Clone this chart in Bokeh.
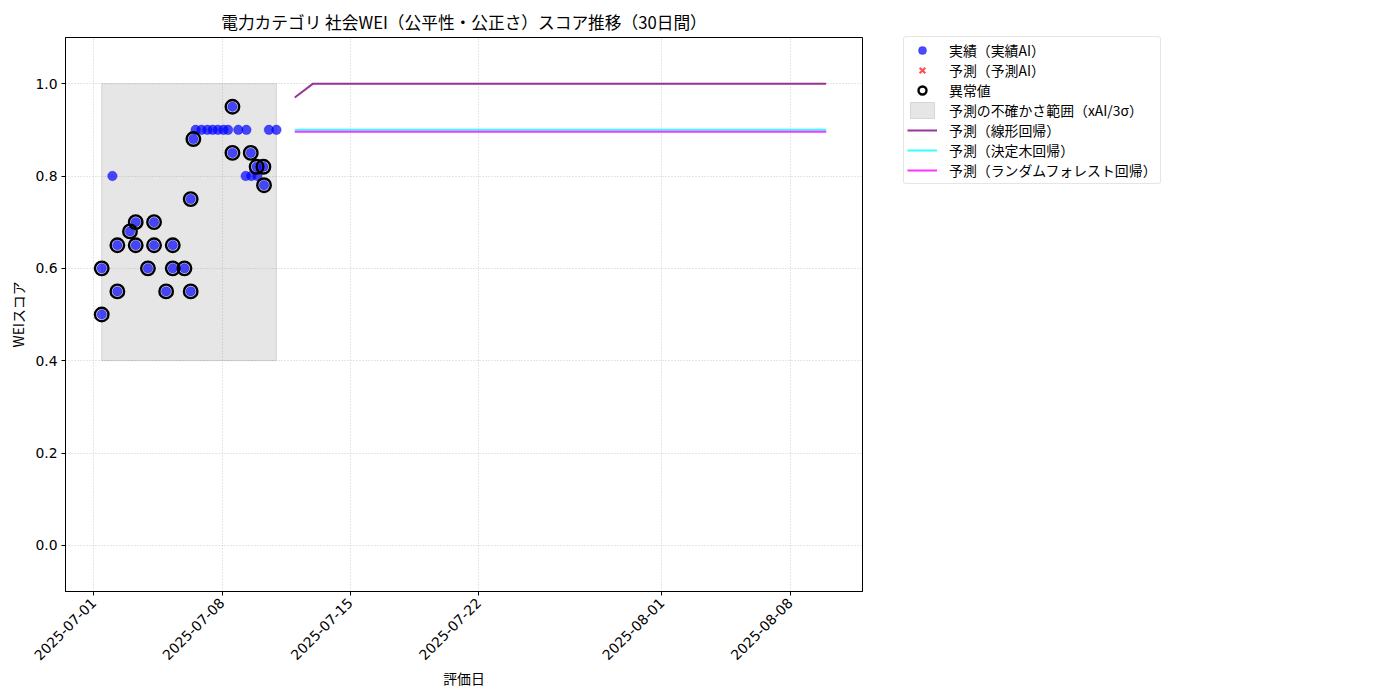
import math
from datetime import datetime, timedelta
from bokeh.plotting import figure
from bokeh.models import (ColumnDataSource, FixedTicker, DatetimeTickFormatter, Range1d,
                          Legend, LegendItem, CustomJSTickFormatter)
from bokeh.embed import file_html
from bokeh.resources import INLINE

# ---------------- data ----------------
actual_dates = [
    "2025-07-01 10:30", "2025-07-01 10:30", "2025-07-02 00:30", "2025-07-02 07:00", "2025-07-02 07:00",
    "2025-07-02 23:30", "2025-07-03 07:00", "2025-07-03 07:00", "2025-07-03 23:00", "2025-07-04 07:00",
    "2025-07-04 07:00", "2025-07-04 22:50", "2025-07-05 07:30", "2025-07-05 07:30", "2025-07-05 22:50",
    "2025-07-06 07:00", "2025-07-06 07:00", "2025-07-06 10:30", "2025-07-06 13:30", "2025-07-06 21:10",
    "2025-07-07 04:50", "2025-07-07 11:45", "2025-07-07 18:40", "2025-07-08 01:55", "2025-07-08 07:55",
    "2025-07-08 13:40", "2025-07-08 13:40", "2025-07-08 21:20", "2025-07-09 07:00", "2025-07-09 07:55",
    "2025-07-09 13:40", "2025-07-09 14:25", "2025-07-09 21:20", "2025-07-09 22:20", "2025-07-10 06:15",
    "2025-07-10 07:00", "2025-07-10 13:25", "2025-07-10 23:15",
]
actual_values = [
    0.50, 0.60, 0.80, 0.55, 0.65,
    0.68, 0.70, 0.65, 0.60, 0.70,
    0.65, 0.55, 0.65, 0.60, 0.60,
    0.55, 0.75, 0.88, 0.90, 0.90,
    0.90, 0.90, 0.90, 0.90, 0.90,
    0.95, 0.85, 0.90, 0.80, 0.90,
    0.85, 0.80, 0.82, 0.80, 0.82,
    0.78, 0.90, 0.90,
]
is_anomaly = [
    1, 1, 0, 1, 1,
    1, 1, 1, 1, 1,
    1, 1, 1, 1, 1,
    1, 1, 1, 0, 0,
    0, 0, 0, 0, 0,
    1, 1, 0, 0, 0,
    1, 0, 1, 0, 1,
    1, 0, 0,
]
forecast_start = "2025-07-11 23:15"
forecast_days = 30
pred_linear = [0.97] + [1.0] * 29
pred_tree = [0.90] * 30
pred_forest = [0.896] * 30
band_low = 0.40
band_high = 1.00
x_tick_labels = ["2025-07-01", "2025-07-08", "2025-07-15", "2025-07-22", "2025-08-01", "2025-08-08"]
y_ticks = [0.0, 0.2, 0.4, 0.6, 0.8, 1.0]

title = "電力カテゴリ 社会WEI（公平性・公正さ）スコア推移（30日間）"
JP = "Noto Sans CJK JP"
NUM = "DejaVu Sans"

# ---------------- prep ----------------
fmt = "%Y-%m-%d %H:%M"
adates = [datetime.strptime(d, fmt) for d in actual_dates]
f0 = datetime.strptime(forecast_start, fmt)
fdates = [f0 + timedelta(days=i) for i in range(forecast_days)]

src = ColumnDataSource(dict(x=adates, y=actual_values))
an_src = ColumnDataSource(dict(
    x=[d for d, a in zip(adates, is_anomaly) if a],
    y=[v for v, a in zip(actual_values, is_anomaly) if a]))
fsrc = ColumnDataSource(dict(x=fdates, lin=pred_linear, tree=pred_tree, rf=pred_forest))
# "予測AI" points: none available (NaN) -> shown only in the legend
pai_src = ColumnDataSource(dict(x=[fdates[0]], y=[float("nan")]))

xmin, xmax = min(adates), max(fdates)
span = xmax - xmin
x_range = Range1d(xmin - span * 0.05, xmax + span * 0.05)

p = figure(x_axis_type="datetime", x_range=x_range, y_range=Range1d(-0.1, 1.1),
           frame_width=797, frame_height=554, output_backend="svg", toolbar_location=None,
           min_border_left=65, min_border_top=37, min_border_bottom=100, min_border_right=10,
           background_fill_color="white", border_fill_color="white")
p.title.text = title
p.title.align = "center"
p.title.text_font = JP
p.title.text_font_size = "16.7px"
p.title.text_font_style = "normal"
p.title.text_color = "black"
p.title.offset = 0
p.title.standoff = 8

p.outline_line_color = "black"
p.outline_line_width = 1
p.outline_line_alpha = 1

for g in (p.xgrid, p.ygrid):
    g.grid_line_color = "#b0b0b0"
    g.grid_line_alpha = 0.8
    g.grid_line_dash = "1 2"
    g.grid_line_width = 0.8

band = p.quad(left=[adates[0]], right=[adates[-1]], bottom=[band_low], top=[band_high],
              fill_color="gray", fill_alpha=0.2, line_color="gray", line_alpha=0.25)

sc = p.scatter("x", "y", source=src, size=9.5, fill_color="blue", fill_alpha=0.7,
               line_color="blue", line_alpha=0.7, line_width=0.5)
px = p.scatter("x", "y", source=pai_src, marker="x", size=13, line_color="red",
               line_alpha=0.7, line_width=2)
an = p.scatter("x", "y", source=an_src, size=13.5, fill_color=None, line_color="black",
               line_width=2.4)

l1 = p.line("x", "lin", source=fsrc, line_color="purple", line_alpha=0.8, line_width=2)
l2 = p.line("x", "tree", source=fsrc, line_color="cyan", line_alpha=0.8, line_width=2)
l3 = p.line("x", "rf", source=fsrc, line_color="magenta", line_alpha=0.8, line_width=2)

tick_ms = [(datetime.strptime(t, "%Y-%m-%d") - datetime(1970, 1, 1)).total_seconds() * 1000
           for t in x_tick_labels]
p.xaxis.ticker = FixedTicker(ticks=tick_ms)
p.xaxis.formatter = DatetimeTickFormatter(days="%Y-%m-%d", months="%Y-%m-%d", years="%Y-%m-%d",
                                          hours="%Y-%m-%d", minutes="%Y-%m-%d",
                                          seconds="%Y-%m-%d", milliseconds="%Y-%m-%d",
                                          minsec="%Y-%m-%d", hourmin="%Y-%m-%d")
p.xaxis.major_label_orientation = math.pi / 4
p.yaxis.ticker = FixedTicker(ticks=y_ticks)
p.yaxis.formatter = CustomJSTickFormatter(code="return tick.toFixed(1);")

for ax in (p.xaxis, p.yaxis):
    ax.axis_line_color = "black"
    ax.major_tick_line_color = "black"
    ax.major_tick_out = 4
    ax.major_tick_in = 0
    ax.minor_tick_line_color = None
    ax.major_label_text_font = NUM
    ax.major_label_text_font_size = "13.9px"
    ax.major_label_text_color = "black"
    ax.axis_label_text_font = JP
    ax.axis_label_text_font_size = "13.9px"
    ax.axis_label_text_font_style = "normal"
    ax.axis_label_text_color = "black"
p.xaxis.axis_label = "評価日"
p.yaxis.axis_label = "WEIスコア"
p.xaxis.major_label_standoff = 5
p.yaxis.major_label_standoff = 4
p.xaxis.axis_label_standoff = 0
p.yaxis.axis_label_standoff = 4

legend = Legend(items=[
    LegendItem(label="実績（実績AI）", renderers=[sc]),
    LegendItem(label="予測（予測AI）", renderers=[px]),
    LegendItem(label="異常値", renderers=[an]),
    LegendItem(label="予測の不確かさ範囲（xAI/3σ）", renderers=[band]),
    LegendItem(label="予測（線形回帰）", renderers=[l1]),
    LegendItem(label="予測（決定木回帰）", renderers=[l2]),
    LegendItem(label="予測（ランダムフォレスト回帰）", renderers=[l3]),
])
legend.location = (41, 407)
legend.margin = 0
legend.padding = 3
legend.spacing = 0
legend.glyph_width = 30
legend.glyph_height = 20
legend.label_standoff = 12
legend.label_height = 20
legend.label_text_font = JP
legend.label_text_font_size = "13.9px"
legend.label_text_color = "black"
legend.label_text_baseline = "middle"
legend.border_line_color = "#cccccc"
legend.border_line_width = 1
legend.background_fill_alpha = 0.8
if "border_radius" in legend.properties():
    legend.border_radius = 3
p.add_layout(legend, "right")

open("out.html", "w").write(file_html(p, INLINE))
